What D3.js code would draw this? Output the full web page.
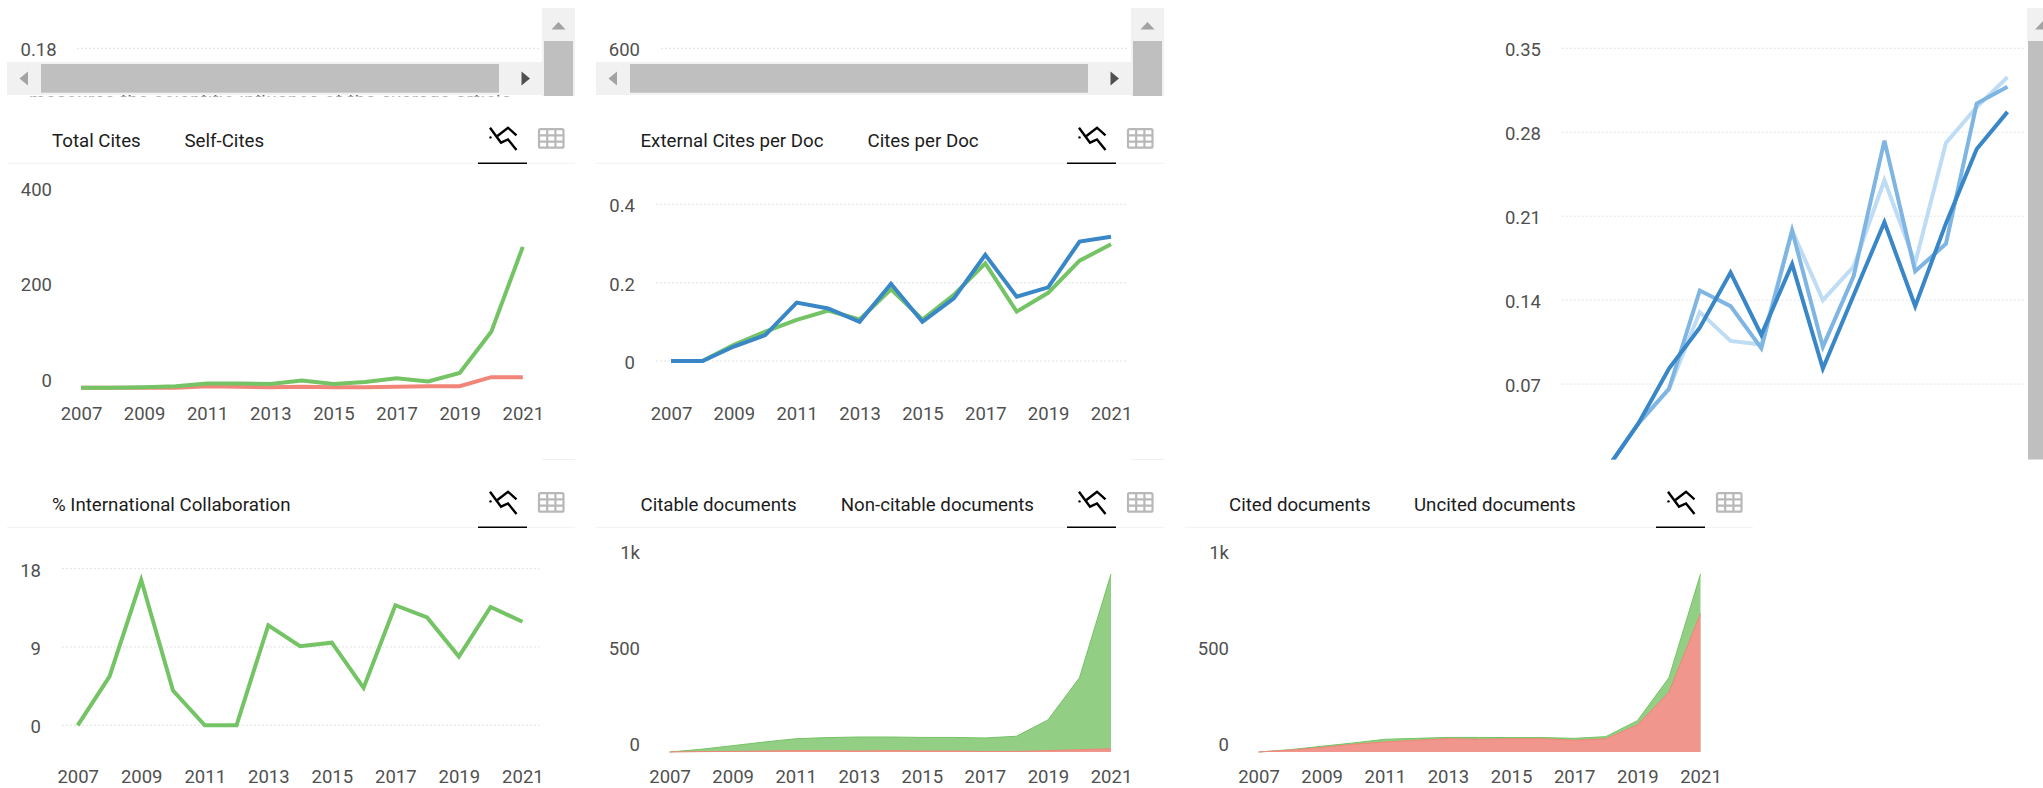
<!DOCTYPE html>
<html>
<head>
<meta charset="utf-8">
<title>Journal indicators</title>
<script src="https://cdnjs.cloudflare.com/ajax/libs/d3/7.8.5/d3.min.js"></script>
<style>
	html, body { margin: 0; padding: 0; background: #fff; overflow: hidden; }
	svg { display: block; }
	text { font-family: Roboto, sans-serif; font-size: 18.5px; }
	.tick text { fill: #505050; }
	.tab { fill: #1c1c1c; font-size: 18.7px; }
	.grid line { stroke: #e2e2e2; stroke-dasharray: 2 2; }
</style>
</head>
<body>
<div id="page"></div>
<script>
var width = 2043, height = 788;

var green = "#74c365", red = "#f28579";
var blueDark = "#3a87c8", blueMid = "#7fb5e3", blueLight = "#bedcf3";

var years = [2007,2008,2009,2010,2011,2012,2013,2014,2015,2016,2017,2018,2019,2020,2021];
var yearTicks = [2007,2009,2011,2013,2015,2017,2019,2021];

// Total Cites / Self-Cites
var totalCites = [0,0,1,3,9,9,8,15,8,12,20,13,31,117,295];
var selfCites = [0,0,0,0,3,2,1,2,1,1,2,3,3,22,22];
var citesTicks = [0,200,400];

// External Cites per Doc / Cites per Doc
var externalPerDoc = [0,0,.041,.075,.105,.129,.106,.183,.106,.169,.249,.126,.174,.256,.298];
var citesPerDoc = [0,0,.037,.066,.149,.134,.100,.197,.100,.160,.271,.164,.188,.305,.317];
var perDocTicks = [0,.2,.4];

// top right panel, three blue lines, cut off at the bottom
var blueA = [0,0,.037,.066,.130,.106,.103,.198,.140,.168,.240,.171,.271,.301,.326];
var blueB = [0,0,.037,.066,.148,.135,.100,.198,.101,.160,.273,.164,.187,.304,.318];
var blueC = [0,0,.037,.083,.117,.163,.111,.170,.083,.144,.205,.135,.204,.266,.297];
var blueTicks = [.07,.14,.21,.28,.35];

// % International Collaboration
var intlCollab = [0,5.6,16.7,4.0,0,0,11.5,9.1,9.5,4.3,13.8,12.4,7.9,13.6,11.9];
var intlTicks = [0,9,18];

// Citable / Non-citable documents
var citableDocs = [0,14,33,52,69,75,78,78,76,76,73,82,167,387,927];
var nonCitableDocs = [0,2,3,5,7,7,5,7,5,5,3,3,7,12,17];

// Cited / Uncited documents
var allDocs = [0,12,30,47,66,71,76,76,75,75,71,80,163,387,927];
var uncitedDocs = [0,10,24,40,52,61,69,66,69,69,61,69,141,311,722];
var docTicks = [0,500,1000];

var svg = d3.select("#page").append("svg")
	.attr("width", width)
	.attr("height", height);

var defs = svg.append("defs");
defs.append("clipPath").attr("id", "clip-top")
	.append("rect").attr("x", 0).attr("y", 0).attr("width", width).attr("height", 459.5);
defs.append("clipPath").attr("id", "clip-sliver")
	.append("rect").attr("x", 0).attr("y", 90).attr("width", 560).attr("height", 6.6);

function xScale(x0, x1) {
	return d3.scaleLinear().domain([2007, 2021]).range([x0, x1]);
}

function yearAxis(g, x, y) {
	g.append("g")
		.attr("transform", "translate(0," + y + ")")
		.call(d3.axisBottom(x).tickValues(yearTicks).tickSize(0).tickPadding(0).tickFormat(d3.format("d")))
		.call(function(a) { a.select(".domain").remove(); })
		.selectAll("text").attr("dy", ".32em");
}

// labelX is where the labels end, gridX is [left,right] or null when the panel has no gridlines
function valueAxis(g, y, ticks, labelX, gridX, labelShift, fmt) {
	var axis = g.append("g")
		.attr("transform", "translate(" + labelX + ",0)")
		.call(d3.axisLeft(y).tickValues(ticks).tickSize(0).tickPadding(0).tickFormat(fmt))
		.call(function(a) { a.select(".domain").remove(); });
	axis.selectAll("text").attr("dy", ".32em").attr("y", labelShift);
	if (gridX) {
		g.insert("g", ":first-child").attr("class", "grid")
			.selectAll("line").data(ticks).enter().append("line")
			.attr("x1", gridX[0]).attr("x2", gridX[1])
			.attr("y1", function(d) { return y(d); })
			.attr("y2", function(d) { return y(d); });
	}
}

function drawLine(g, x, y, values, color) {
	var line = d3.line()
		.x(function(d, i) { return x(years[i]); })
		.y(function(d) { return y(d); });
	g.append("path").datum(values)
		.attr("fill", "none")
		.attr("stroke", color)
		.attr("stroke-width", 4)
		.attr("stroke-linejoin", "miter")
		.attr("d", line);
}

function drawArea(g, x, y, values, fill, color) {
	var area = d3.area()
		.x(function(d, i) { return x(years[i]); })
		.y0(y(0))
		.y1(function(d) { return y(d); });
	var line = d3.line()
		.x(function(d, i) { return x(years[i]); })
		.y(function(d) { return y(d); });
	g.append("path").datum(values).attr("fill", fill).attr("d", area);
	g.append("path").datum(values).attr("fill", "none").attr("stroke", color).attr("stroke-width", 1).attr("d", line);
}

// tab strip above a chart, dx moves the whole strip
function header(dx, y, tabs) {
	var g = svg.append("g").attr("transform", "translate(" + dx + "," + y + ")");
	g.selectAll("text.tab").data(tabs).enter().append("text")
		.attr("class", "tab")
		.attr("x", function(d) { return d.x - dx; })
		.attr("y", 0)
		.attr("dy", ".35em")
		.text(function(d) { return d.label; });

	g.append("line").attr("x1", 7).attr("x2", 575).attr("y1", 22.6).attr("y2", 22.6).attr("stroke", "#f2f2f2");
	g.append("line").attr("x1", 478).attr("x2", 527).attr("y1", 22.6).attr("y2", 22.6).attr("stroke", "#000").attr("stroke-width", 1.6);

	var icon = g.append("g").attr("transform", "translate(489,-14)")
		.attr("fill", "none").attr("stroke", "#000").attr("stroke-width", 2.4);
	icon.append("path").attr("d", "M1,1L12,16L19,12.7L27.5,23.3");
	icon.append("path").attr("d", "M8.4,9.3L19,1L27.5,8.7");
	icon.append("circle").attr("cx", 1.5).attr("cy", 10.7).attr("r", 1.2).attr("fill", "#000").attr("stroke", "none");

	var table = g.append("g").attr("transform", "translate(539,-11.5)")
		.attr("fill", "none").attr("stroke", "#b8b8b8").attr("stroke-width", 2.2);
	table.append("rect").attr("width", 24.5).attr("height", 18.5).attr("rx", 1.5);
	table.append("path").attr("d", "M0,6.2H24.5M0,12.4H24.5M8.2,0V18.5M16.4,0V18.5");
}

function scrollbars(dx) {
	var g = svg.append("g").attr("transform", "translate(" + dx + ",0)");
	g.append("rect").attr("x", 7).attr("y", 62).attr("width", 535).attr("height", 33).attr("fill", "#f1f1f1");
	g.append("rect").attr("x", 41).attr("y", 64).attr("width", 458).attr("height", 28.7).attr("fill", "#bfbfbf");
	g.append("path").attr("d", "M28,71.5V85.5L19.5,78.5Z").attr("fill", "#a3a3a3");
	g.append("path").attr("d", "M521.5,71.5V85.5L530,78.5Z").attr("fill", "#505050");
	g.append("rect").attr("x", 542).attr("y", 8).attr("width", 33).attr("height", 88).attr("fill", "#f1f1f1");
	g.append("rect").attr("x", 544).attr("y", 41).attr("width", 29).attr("height", 55).attr("fill", "#bfbfbf");
	g.append("path").attr("d", "M551.5,29.5H565.5L558.5,22Z").attr("fill", "#a3a3a3");
}

// ---- top row, the strips of the charts above it
var stub1 = svg.append("g");
valueAxis(stub1, d3.scaleLinear().domain([.18, 0]).range([48.3, 300]), [.18], 56.6, [77, 540], 1.5, d3.format(".2f"));
var stub2 = svg.append("g");
valueAxis(stub2, d3.scaleLinear().domain([600, 0]).range([48.3, 300]), [600], 640, [661, 1128], 1.5, d3.format("d"));

svg.append("text")
	.attr("clip-path", "url(#clip-sliver)")
	.attr("x", 29).attr("y", 105.6).attr("fill", "#666")
	.attr("textLength", 482)
	.text("measures the scientific influence of the average article");

scrollbars(0);
scrollbars(589);

// ---- Total Cites
header(0, 140.7, [{x: 52, label: "Total Cites"}, {x: 184.5, label: "Self-Cites"}]);
var g1 = svg.append("g");
var x1 = xScale(81, 522.8);
var y1 = d3.scaleLinear().domain([0, 400]).range([387.7, 196.7]);
valueAxis(g1, y1, citesTicks, 52, null, -7.4, d3.format("d"));
yearAxis(g1, x1, 413.7);
drawLine(g1, x1, y1, selfCites, red);
drawLine(g1, x1, y1, totalCites, green);

// ---- External Cites per Doc
header(589, 140.7, [{x: 640.5, label: "External Cites per Doc"}, {x: 867.5, label: "Cites per Doc"}]);
var g2 = svg.append("g");
var x2 = xScale(671, 1111);
var y2 = d3.scaleLinear().domain([0, .4]).range([361, 204.3]);
valueAxis(g2, y2, perDocTicks, 635, [656, 1128], 1.5, function(d) { return d === 0 ? "0" : d3.format(".1f")(d); });
yearAxis(g2, x2, 413.7);
drawLine(g2, x2, y2, externalPerDoc, green);
drawLine(g2, x2, y2, citesPerDoc, blueDark);

// ---- top right, three blues
var g3 = svg.append("g").attr("clip-path", "url(#clip-top)");
var x3 = xScale(1576.7, 2007.5);
var y3 = d3.scaleLinear().domain([0, .35]).range([468, 48.3]);
valueAxis(g3, y3, blueTicks, 1541, [1561.6, 2023.6], 1.5, d3.format(".2f"));
drawLine(g3, x3, y3, blueA, blueLight);
drawLine(g3, x3, y3, blueB, blueMid);
drawLine(g3, x3, y3, blueC, blueDark);

svg.append("rect").attr("x", 2027).attr("y", 8).attr("width", 16).attr("height", 33).attr("fill", "#f1f1f1");
svg.append("rect").attr("x", 2028).attr("y", 41).attr("width", 15).attr("height", 418.5).attr("fill", "#bfbfbf");
svg.append("path").attr("d", "M2035,29.5L2043,21V29.5Z").attr("fill", "#a3a3a3");

// the rows below the top panels start here, only their first pixels show
svg.selectAll("line.cut").data([0, 589]).enter().append("line")
	.attr("x1", function(d) { return 542 + d; })
	.attr("x2", function(d) { return 575 + d; })
	.attr("y1", 459.5).attr("y2", 459.5)
	.attr("stroke", "#f0f0f0");
svg.append("text").attr("clip-path", "url(#clip-top)")
	.attr("x", 66).attr("y", 472.5).attr("text-anchor", "middle").attr("fill", "#505050")
	.text("0");

// ---- % International Collaboration
header(0, 504.7, [{x: 52, label: "% International Collaboration"}]);
var g4 = svg.append("g");
var x4 = xScale(77.7, 522.4);
var y4 = d3.scaleLinear().domain([0, 18]).range([725.3, 568.7]);
valueAxis(g4, y4, intlTicks, 41, [62, 539.6], 1.5, d3.format("d"));
yearAxis(g4, x4, 777.3);
drawLine(g4, x4, y4, intlCollab, green);

// ---- Citable documents
var docFormat = function(d) { return d === 1000 ? "1k" : String(d); };
header(589, 504.7, [{x: 640.5, label: "Citable documents"}, {x: 840.7, label: "Non-citable documents"}]);
var g5 = svg.append("g");
var x5 = xScale(669.6, 1111);
var y5 = d3.scaleLinear().domain([0, 1000]).range([752, 560]);
valueAxis(g5, y5, docTicks, 640, null, -7.4, docFormat);
yearAxis(g5, x5, 777.3);
drawArea(g5, x5, y5, citableDocs, "#92cf84", green);
drawArea(g5, x5, y5, nonCitableDocs, "#f0968c", red);

// ---- Cited documents
header(1178, 504.7, [{x: 1229, label: "Cited documents"}, {x: 1414, label: "Uncited documents"}]);
var g6 = svg.append("g");
var x6 = xScale(1258.5, 1700.5);
var y6 = d3.scaleLinear().domain([0, 1000]).range([752, 560]);
valueAxis(g6, y6, docTicks, 1229, null, -7.4, docFormat);
yearAxis(g6, x6, 777.3);
drawArea(g6, x6, y6, allDocs, "#92cf84", green);
drawArea(g6, x6, y6, uncitedDocs, "#f0968c", red);
</script>
</body>
</html>
